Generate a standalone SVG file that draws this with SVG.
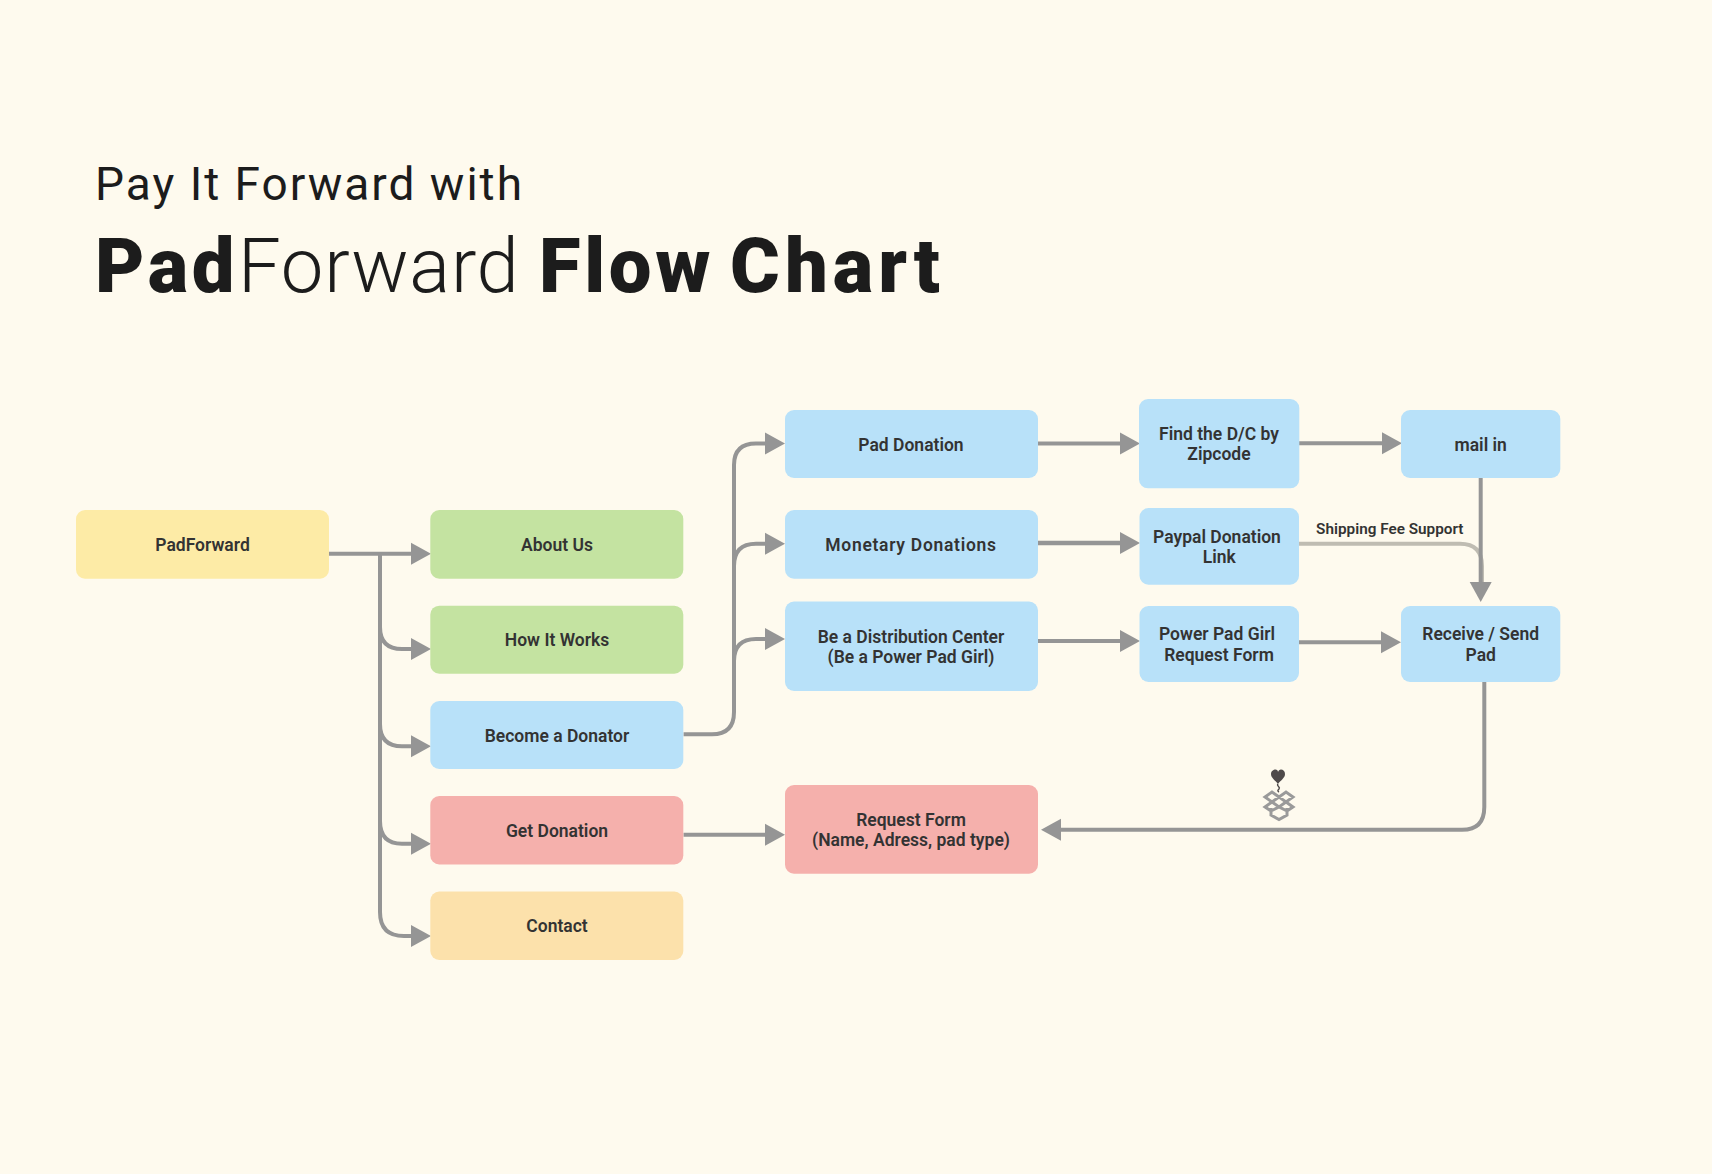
<svg xmlns="http://www.w3.org/2000/svg" width="1712" height="1174" viewBox="0 0 1712 1174">
<style>
.n{font:600 17.5px Roboto,"Liberation Sans",sans-serif;fill:#333;text-anchor:middle}
.c{fill:none;stroke:#959595;stroke-width:4}
.h{font-family:Roboto,"Liberation Sans",sans-serif;fill:#1c1c1c}
.y{fill:#fdeba6}.g{fill:#c4e3a1}.b{fill:#b8e1f9}.r{fill:#f5b0ac}.o{fill:#fce1ab}
</style>
<defs>
<marker id="a" markerUnits="userSpaceOnUse" markerWidth="21" markerHeight="24" viewBox="0 0 21 24" refX="0" refY="12" orient="auto"><path d="M0 1L20 12L0 23Z" fill="#959595"/></marker>
</defs>
<rect width="1712" height="1174" fill="#fefaee"/>
<g id="title">
<text class="h" x="95" y="200" font-size="46" font-weight="400" letter-spacing="2">Pay It Forward with</text>
<text class="h" y="292" font-size="76"><tspan x="95" font-weight="900" letter-spacing="3.600">Pad</tspan><tspan x="238" font-weight="300" letter-spacing=".8">Forward</tspan><tspan x="539" font-weight="900" letter-spacing="3.700">Flow</tspan><tspan x="730" font-weight="900" letter-spacing="5">Chart</tspan></text>
</g>
<g id="connectors">
<path class="c" d="M329 553.7H411" marker-end="url(#a)"/>
<path class="c" d="M380 553.7V627Q380 649 402 649H411" marker-end="url(#a)"/>
<path class="c" d="M380 627V724Q380 746.3 402 746.3H411" marker-end="url(#a)"/>
<path class="c" d="M380 724V821Q380 843.7 402 843.7H411" marker-end="url(#a)"/>
<path class="c" d="M380 821V912Q380 936 404 936H411" marker-end="url(#a)"/>
<path class="c" d="M683.5 734.3H712Q734 734.3 734 712V465Q734 443.5 756 443.5H765" marker-end="url(#a)"/>
<path class="c" d="M734 566Q734 543.7 756 543.7H765" marker-end="url(#a)"/>
<path class="c" d="M734 661Q734 639 756 639H765" marker-end="url(#a)"/>
<path class="c" d="M683.5 834.7H765" marker-end="url(#a)"/>
<path class="c" d="M1038 443.5H1120" marker-end="url(#a)"/>
<path class="c" style="stroke-width:4.500" d="M1038 543H1120" marker-end="url(#a)"/>
<path class="c" d="M1038 641H1120" marker-end="url(#a)"/>
<path class="c" d="M1299 443.3H1382" marker-end="url(#a)"/>
<path class="c" style="stroke:#bfbcb2" d="M1299 543.7H1460Q1482 543.7 1482 566V590"/>
<path class="c" d="M1480.7 478V582" marker-end="url(#a)"/>
<path class="c" d="M1299 642.3H1381" marker-end="url(#a)"/>
<path class="c" d="M1484.3 682V807Q1484.3 829.8 1462 829.8H1061" marker-end="url(#a)"/>
<text x="1389.8" y="534" style="font:600 15.300px Roboto,'Liberation Sans',sans-serif;fill:#333;text-anchor:middle">Shipping Fee Support</text>
</g>
<g id="padforward"><rect class="y" x="76" y="510" width="253" height="68.700" rx="9"/><text class="n" x="202.500" y="551">PadForward</text></g>
<g id="about-us"><rect class="g" x="430.300" y="510" width="253" height="68.700" rx="9"/><text class="n" x="557" y="551">About Us</text></g>
<g id="how-it-works"><rect class="g" x="430.300" y="605.700" width="253" height="68" rx="9"/><text class="n" x="557" y="646.300">How It Works</text></g>
<g id="become-a-donator"><rect class="b" x="430.300" y="701" width="253" height="68" rx="9"/><text class="n" x="557" y="741.700">Become a Donator</text></g>
<g id="get-donation"><rect class="r" x="430.300" y="796" width="253" height="68.500" rx="9"/><text class="n" x="557" y="837">Get Donation</text></g>
<g id="contact"><rect class="o" x="430.300" y="891.500" width="253" height="68.500" rx="9"/><text class="n" x="557" y="932.300">Contact</text></g>
<g id="pad-donation"><rect class="b" x="785" y="410" width="253" height="68" rx="9"/><text class="n" x="911" y="450.700">Pad Donation</text></g>
<g id="monetary-donations"><rect class="b" x="785" y="510" width="253" height="68.700" rx="9"/><text class="n" x="911" y="551" letter-spacing=".7">Monetary Donations</text></g>
<g id="distribution-center"><rect class="b" x="785" y="601.500" width="253" height="89.500" rx="9"/><text class="n" x="911" y="642.800">Be a Distribution Center</text><text class="n" x="911" y="662.800">(Be a Power Pad Girl)</text></g>
<g id="request-form"><rect class="r" x="785" y="785" width="253" height="88.700" rx="9"/><text class="n" x="911" y="825.500">Request Form</text><text class="n" x="911" y="845.500">(Name, Adress, pad type)</text></g>
<g id="find-dc"><rect class="b" x="1139" y="399" width="160.300" height="89.300" rx="9"/><text class="n" x="1219" y="440">Find the D/C by</text><text class="n" x="1219" y="460">Zipcode</text></g>
<g id="paypal"><rect class="b" x="1139.500" y="508" width="159.500" height="76.700" rx="9"/><text class="n" x="1217" y="542.700">Paypal Donation</text><text class="n" x="1219.300" y="563">Link</text></g>
<g id="power-pad-girl"><rect class="b" x="1139.500" y="606" width="159.500" height="76" rx="9"/><text class="n" x="1217" y="640.300">Power Pad Girl</text><text class="n" x="1219" y="660.500">Request Form</text></g>
<g id="mail-in"><rect class="b" x="1401" y="410" width="159.300" height="68" rx="9"/><text class="n" x="1480.700" y="450.700">mail in</text></g>
<g id="receive-send"><rect class="b" x="1401" y="606" width="159.300" height="76" rx="9"/><text class="n" x="1480.700" y="640.300">Receive / Send</text><text class="n" x="1480.700" y="660.500">Pad</text></g>
<g id="box-icon">
<path d="M1278 784C1275 780 1271 778 1271 774C1271 771 1273.500 769.500 1275.500 769.500C1277 769.500 1278 770.500 1278 772C1278.500 770.500 1279.500 769.500 1281 769.500C1283 769.500 1285 771 1285 774C1285 778 1281 780 1278 784Z" fill="#4f4a4a"/>
<path d="M1278 784C1276 786 1281 787 1279 789C1278 790 1277 791 1279 792" fill="none" stroke="#4f4a4a" stroke-width="1.400"/>
<path d="M1279 797L1272 792L1265 797L1272 802L1279 797L1286 792L1293 797L1286 802L1279 797M1272 802L1265 807L1271 811M1286 802L1293 807L1287 811M1272 802L1279 807L1286 802M1271 808V815L1279 819.500L1287 815V808M1271 811L1279 807L1287 811" fill="none" stroke="#9a9a9a" stroke-width="3"/>
</g>
</svg>
